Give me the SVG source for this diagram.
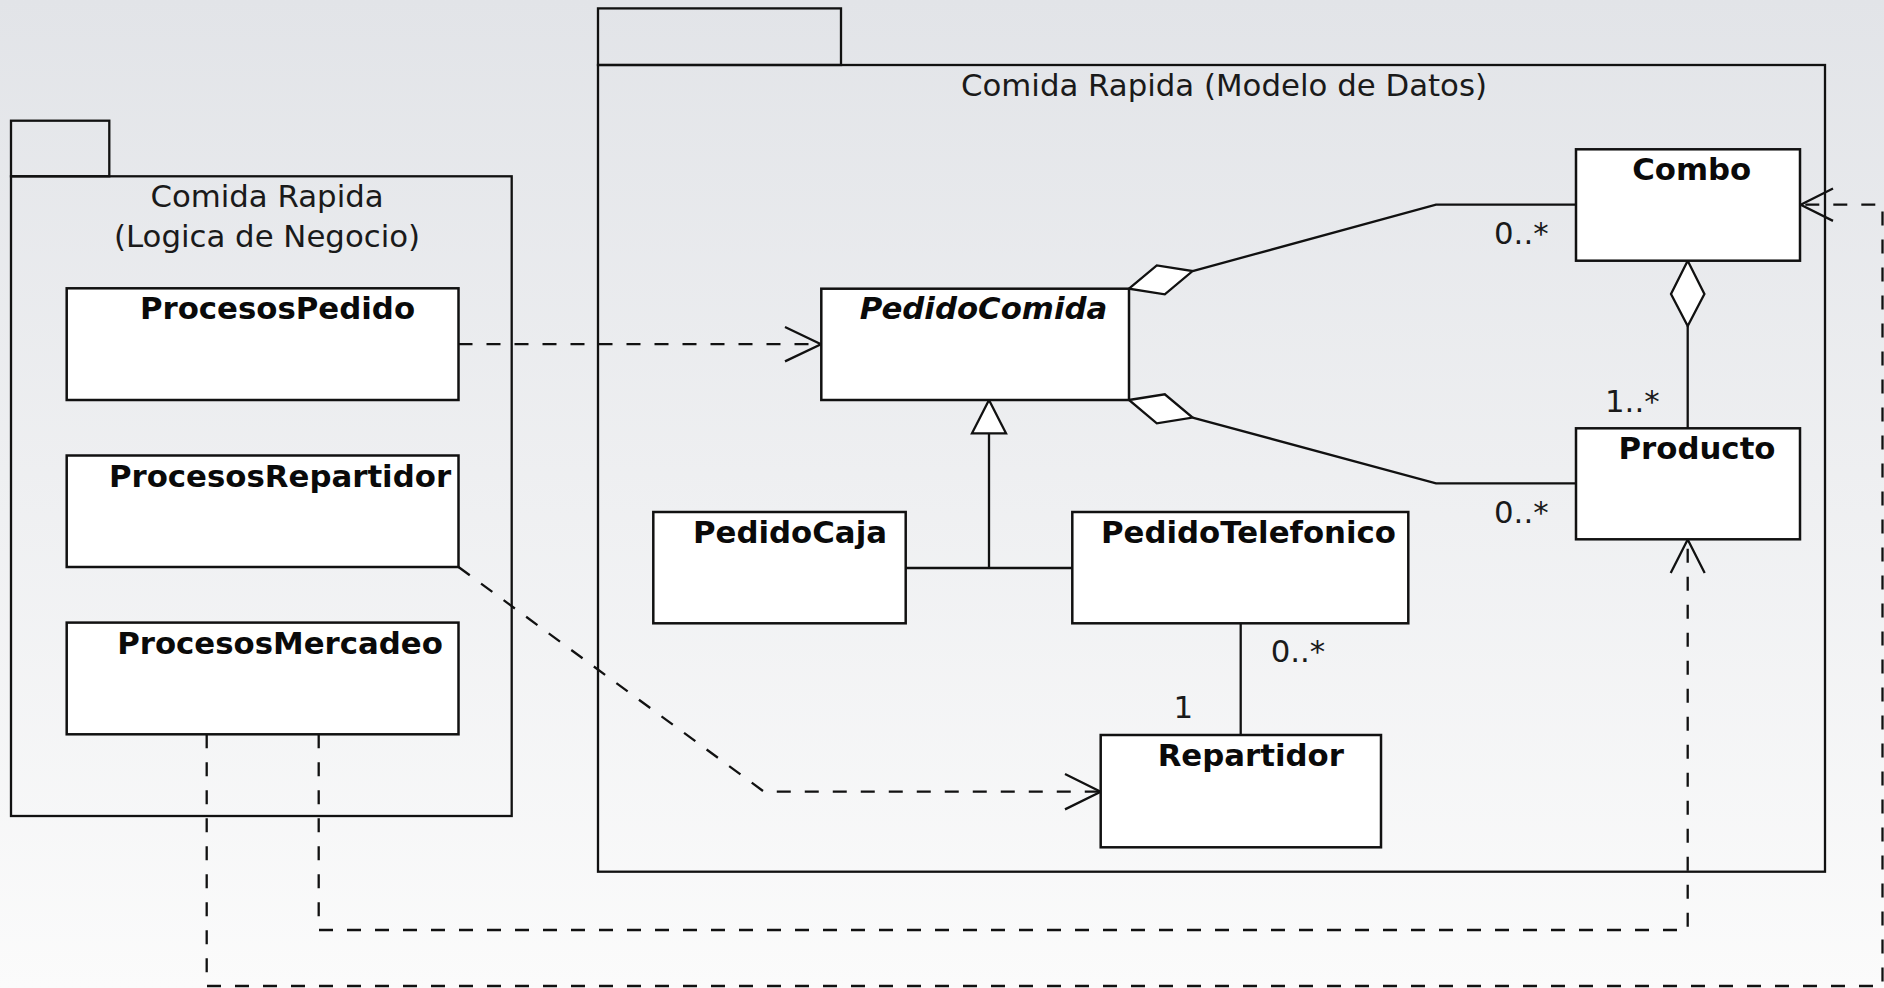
<svg xmlns="http://www.w3.org/2000/svg" width="1884" height="988" viewBox="0 0 1884 988">
  <defs>
    <linearGradient id="bg" x1="0" y1="0" x2="0" y2="1">
      <stop offset="0" stop-color="#e2e4e8"/>
      <stop offset="1" stop-color="#fbfbfb"/>
    </linearGradient>
    <style>
      .pkg { fill: none; stroke: #111; stroke-width: 2.3; }
      .cls { fill: #fff; stroke: #111; stroke-width: 2.5; }
      .name { font-family: "DejaVu Sans", "Liberation Sans", sans-serif; font-size: 30.8px; font-weight: bold; fill: #0a0a0a; text-anchor: middle; }
      .abstract { font-style: italic; }
      .title { font-family: "DejaVu Sans", "Liberation Sans", sans-serif; font-size: 30.8px; fill: #1a1a1a; text-anchor: middle; }
      .mult { font-family: "DejaVu Sans", "Liberation Sans", sans-serif; font-size: 30.8px; fill: #1a1a1a; }
      .assoc { fill: none; stroke: #111; stroke-width: 2.3; }
      .dep { fill: none; stroke: #111; stroke-width: 2.3; stroke-dasharray: 14 14; }
      .head { fill: none; stroke: #111; stroke-width: 2.3; stroke-linejoin: miter; }
      .diamond { fill: #fff; stroke: #111; stroke-width: 2.3; }
    </style>
  </defs>

  <rect x="0" y="0" width="1884" height="988" fill="url(#bg)"/>

  <!-- Package: business logic -->
  <g id="pkg-logica">
    <rect class="pkg" x="11" y="120.7" width="98.3" height="55.6"/>
    <rect class="pkg" x="11" y="176.3" width="500.7" height="639.7"/>
    <text class="title" x="267" y="207">Comida Rapida</text>
    <text class="title" x="267" y="246.7">(Logica de Negocio)</text>
  </g>

  <!-- Package: data model -->
  <g id="pkg-modelo">
    <rect class="pkg" x="598" y="8.4" width="243" height="56.6"/>
    <rect class="pkg" x="598" y="65" width="1227" height="806.7"/>
    <text class="title" x="1224" y="95.7">Comida Rapida (Modelo de Datos)</text>
  </g>

  <!-- Connectors -->
  <g id="connectors">
    <!-- generalization: PedidoCaja / PedidoTelefonico -> PedidoComida -->
    <path class="assoc" d="M905.7 568 H1072.3 M989 568 V433.3"/>
    <polygon class="diamond" points="989,400 972,433.3 1006,433.3"/>

    <!-- aggregation: PedidoComida <>- Combo -->
    <path class="assoc" d="M1192.6 271.1 L1436 204.7 H1576"/>
    <polygon class="diamond" points="1129,288.7 1156.8,265.4 1192.6,271.1 1164.8,294.4"/>

    <!-- aggregation: PedidoComida <>- Producto -->
    <path class="assoc" d="M1192.6 417.6 L1436 483.3 H1576"/>
    <polygon class="diamond" points="1129,400 1164.8,394.3 1192.6,417.6 1156.8,423.3"/>

    <!-- aggregation: Combo <>- Producto -->
    <path class="assoc" d="M1687.7 326 V428.3"/>
    <polygon class="diamond" points="1687.7,260.7 1671,294 1687.7,326 1704.4,294"/>

    <!-- association: PedidoTelefonico - Repartidor -->
    <path class="assoc" d="M1240.7 623.3 V735"/>

    <!-- dependency: ProcesosPedido -> PedidoComida -->
    <path class="dep" d="M458.5 344.2 H819"/>
    <path class="head" d="M785 327 L821 344.2 L785 361.4"/>

    <!-- dependency: ProcesosRepartidor -> Repartidor -->
    <path class="dep" d="M458.5 567 L764 791.7 H1099"/>
    <path class="head" d="M1065 774 L1100.7 791.7 L1065 809.4"/>

    <!-- dependency: ProcesosMercadeo -> Producto -->
    <path class="dep" d="M318.7 734.3 V930 H1687.7 V541"/>
    <path class="head" d="M1670.7 573 L1687.7 539.5 L1704.7 573"/>

    <!-- dependency: ProcesosMercadeo -> Combo -->
    <path class="dep" d="M206.7 734.3 V986 H1882.5 V204.7 H1802"/>
    <path class="head" d="M1833 188.5 L1800.7 204.7 L1833 220.9"/>
  </g>

  <!-- Multiplicities -->
  <g id="multiplicities">
    <text class="mult" x="1494" y="244">0..*</text>
    <text class="mult" x="1494" y="523.3">0..*</text>
    <text class="mult" x="1605" y="411.7">1..*</text>
    <text class="mult" x="1270.7" y="662.3">0..*</text>
    <text class="mult" x="1173.4" y="718.3">1</text>
  </g>

  <!-- Classes: business logic -->
  <g id="ProcesosPedido">
    <rect class="cls" x="66.7" y="288.3" width="391.8" height="111.7"/>
    <text class="name" x="277.5" y="319.3">ProcesosPedido</text>
  </g>
  <g id="ProcesosRepartidor">
    <rect class="cls" x="66.7" y="455.5" width="391.8" height="111.5"/>
    <text class="name" x="280" y="486.5">ProcesosRepartidor</text>
  </g>
  <g id="ProcesosMercadeo">
    <rect class="cls" x="66.7" y="622.6" width="391.8" height="111.7"/>
    <text class="name" x="280" y="653.6">ProcesosMercadeo</text>
  </g>

  <!-- Classes: data model -->
  <g id="PedidoComida">
    <rect class="cls" x="821.3" y="288.7" width="307.7" height="111.3"/>
    <text class="name abstract" x="983.5" y="319.3">PedidoComida</text>
  </g>
  <g id="PedidoCaja">
    <rect class="cls" x="653.3" y="512" width="252.4" height="111.3"/>
    <text class="name" x="790" y="542.7">PedidoCaja</text>
  </g>
  <g id="PedidoTelefonico">
    <rect class="cls" x="1072.3" y="512" width="336" height="111.3"/>
    <text class="name" x="1248.5" y="542.7">PedidoTelefonico</text>
  </g>
  <g id="Repartidor">
    <rect class="cls" x="1100.7" y="735" width="280.3" height="112.3"/>
    <text class="name" x="1250.8" y="765.7">Repartidor</text>
  </g>
  <g id="Combo">
    <rect class="cls" x="1576" y="149.3" width="224" height="111.4"/>
    <text class="name" x="1691.7" y="180">Combo</text>
  </g>
  <g id="Producto">
    <rect class="cls" x="1576" y="428.3" width="224" height="111"/>
    <text class="name" x="1697" y="459.3">Producto</text>
  </g>
</svg>
